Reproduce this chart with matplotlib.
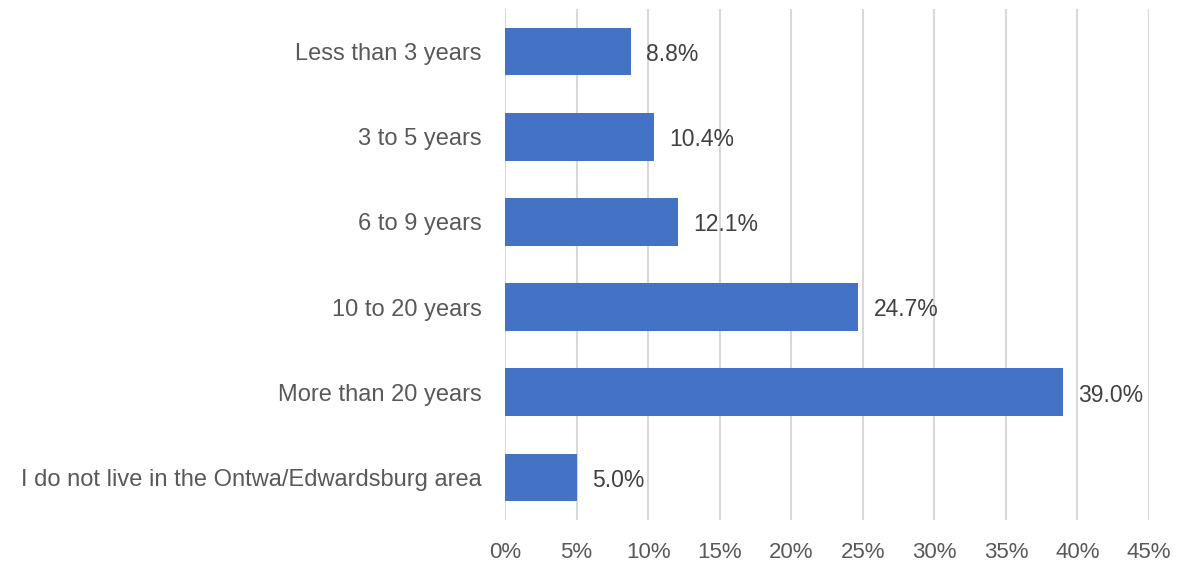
import matplotlib
matplotlib.use('Agg')
import matplotlib.pyplot as plt
from matplotlib.ticker import FuncFormatter

# Survey categories (top to bottom) and shares in percent
categories = [
    'Less than 3 years',
    '3 to 5 years',
    '6 to 9 years',
    '10 to 20 years',
    'More than 20 years',
    'I do not live in the Ontwa/Edwardsburg area',
]
values = [8.8, 10.4, 12.1, 24.7, 39.0, 5.0]
x_ticks = [0, 5, 10, 15, 20, 25, 30, 35, 40, 45]

plt.rcParams['font.family'] = ['Liberation Sans', 'DejaVu Sans']

fig = plt.figure(figsize=(11.78, 5.62), dpi=100)
ax = fig.add_axes([505 / 1178, 1 - 520 / 562, 644 / 1178, 511 / 562])

ypos = list(range(len(categories)))
ax.barh(ypos, values, height=0.56, color='#4472C4', zorder=3)

for y, v in zip(ypos, values):
    ax.annotate(f'{v:.1f}%', (v, y), xytext=(11, -2), textcoords='offset points',
                va='center', ha='left', fontsize=16.5, color='#404040')

ax.set_yticks(ypos)
ax.set_yticklabels(categories)
ax.set_ylim(len(categories) - 0.5, -0.5)
ax.set_xlim(0, 45)
ax.set_xticks(x_ticks)
ax.xaxis.set_major_formatter(FuncFormatter(lambda x, _: f'{x:.0f}%'))

ax.grid(axis='x', color='#D9D9D9', linewidth=1.5, zorder=0)
for s in ax.spines.values():
    s.set_visible(False)
ax.tick_params(axis='both', length=0, labelcolor='#595959')
ax.tick_params(axis='y', pad=17, labelsize=17)
ax.tick_params(axis='x', pad=16, labelsize=16)

fig.savefig('out.png', dpi=100)
